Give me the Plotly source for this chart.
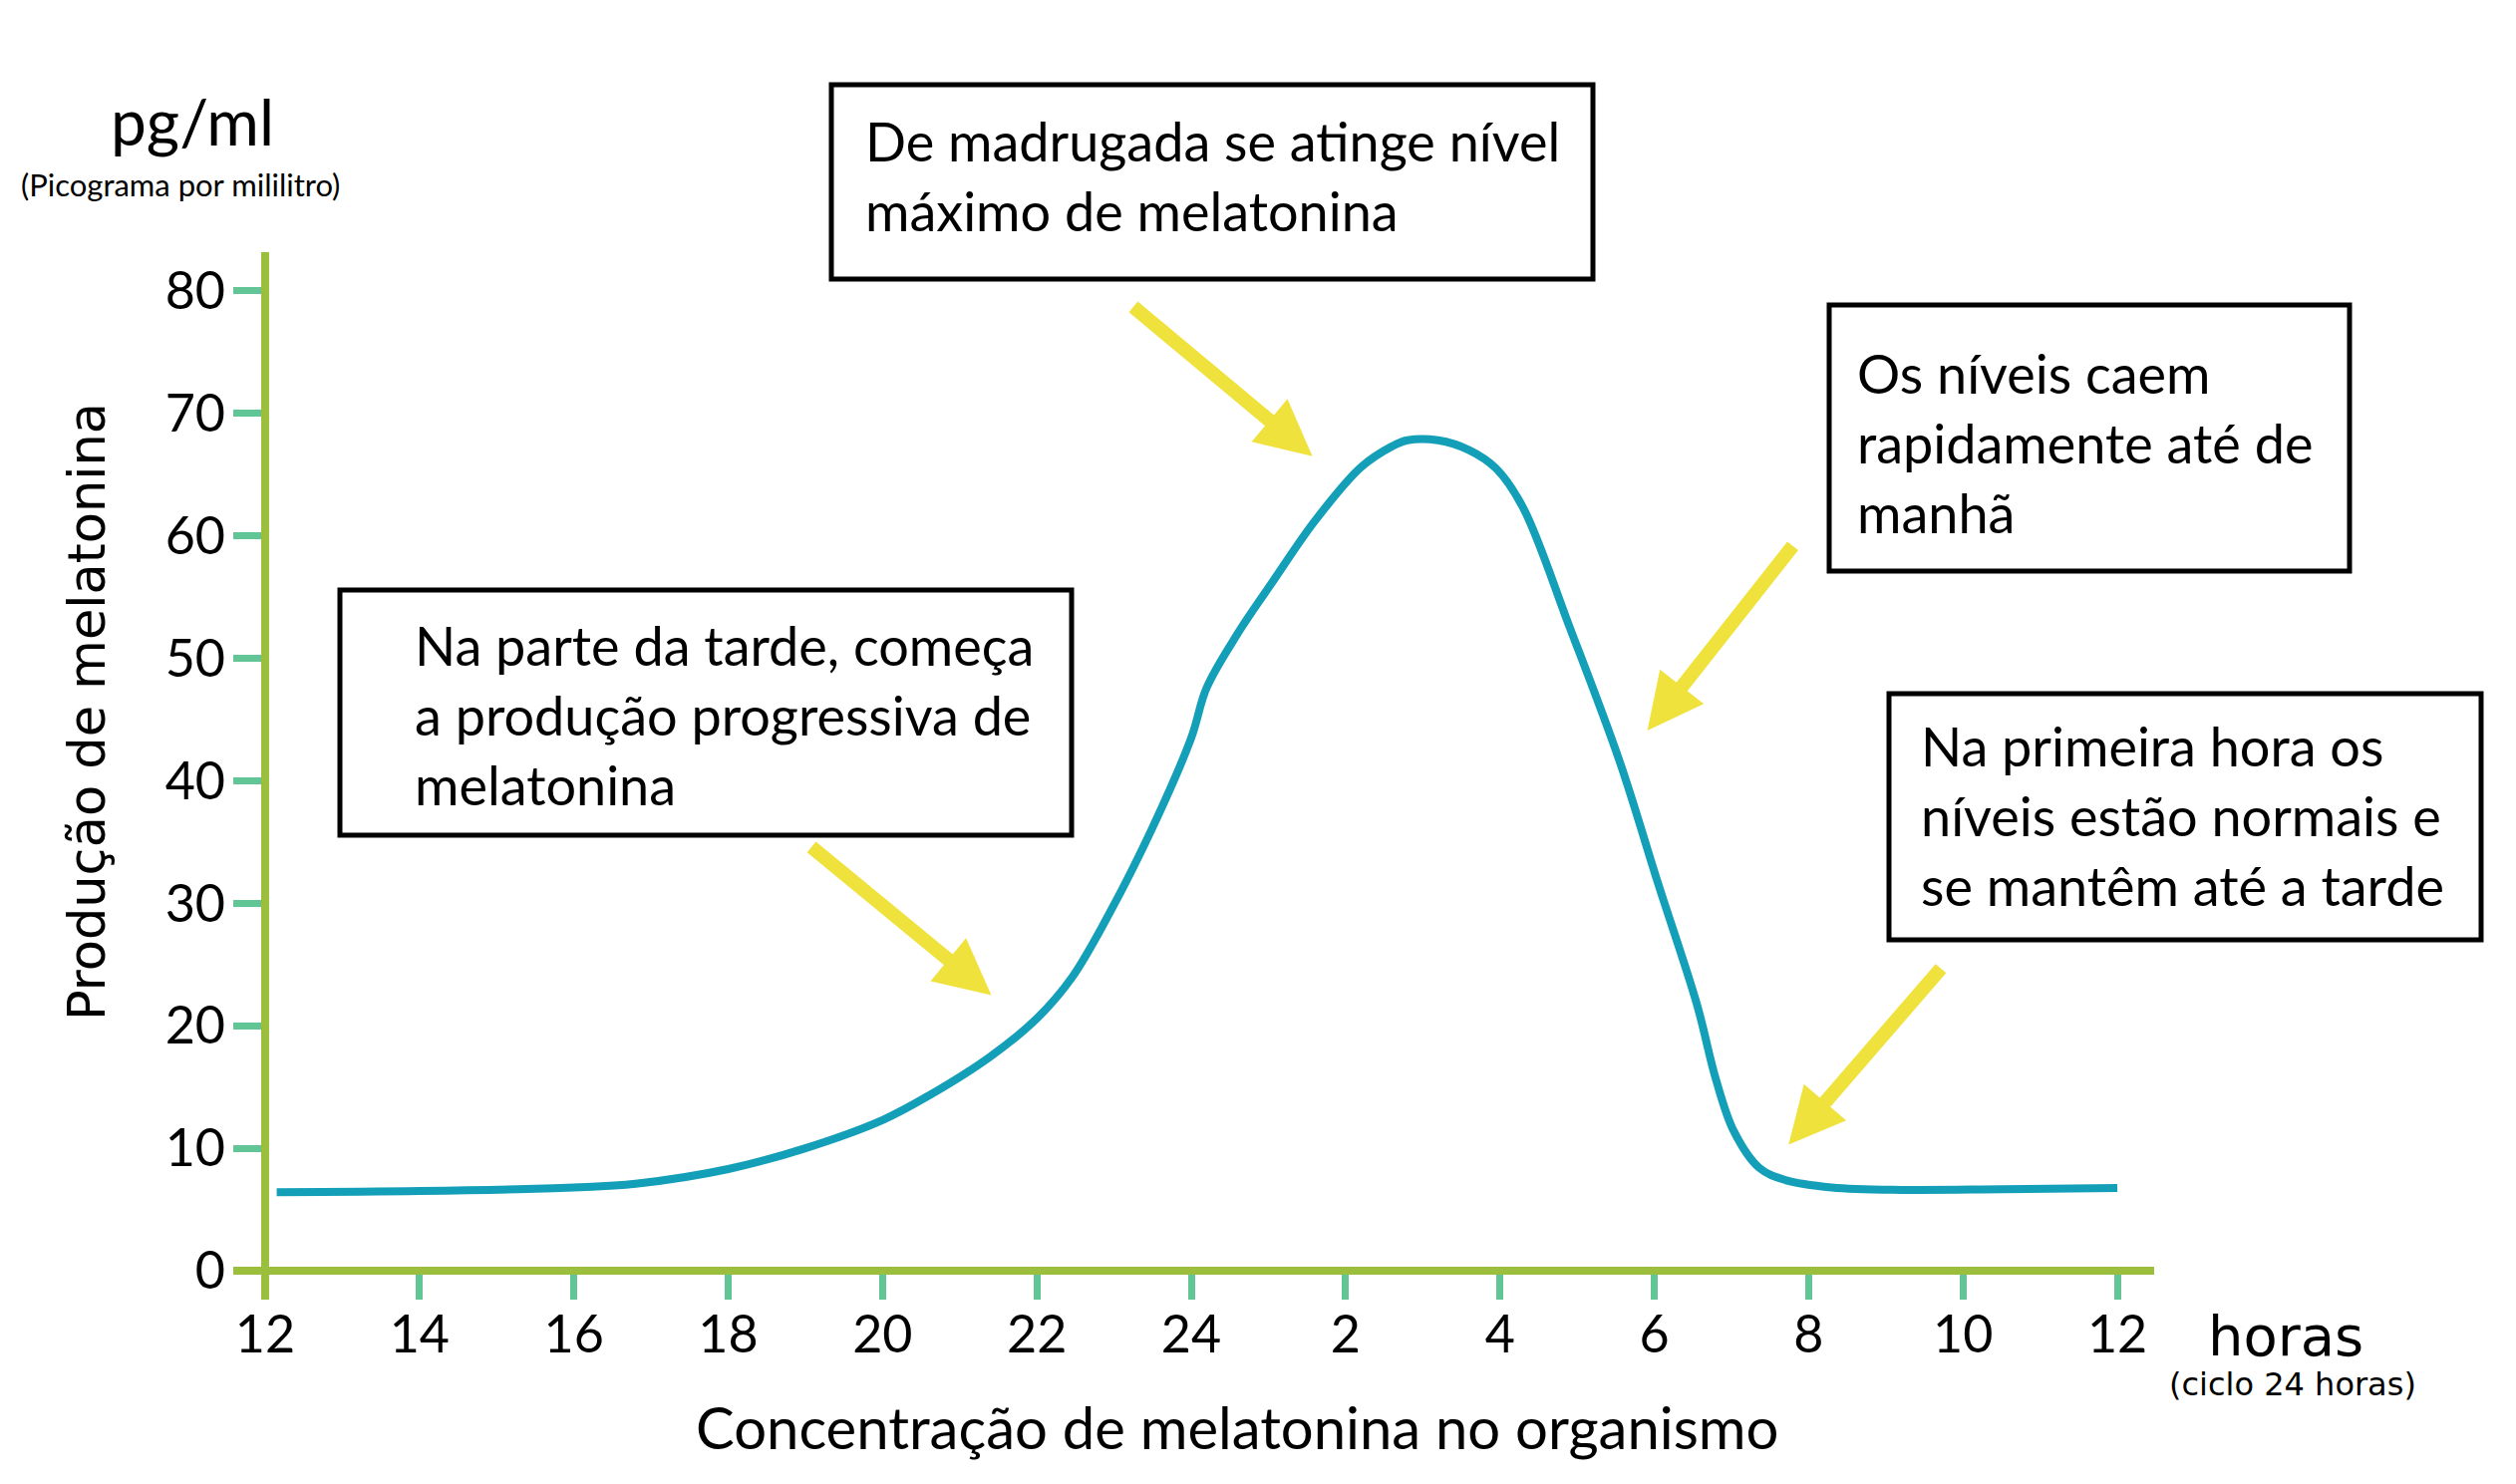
import plotly.graph_objects as go

# hours counted from 12:00 (noon) over a 24 hour cycle
hours = [0.15, 2, 4, 4.8, 6, 7, 8, 8.6, 9.4, 10, 10.45, 10.95, 11.5, 12.0,
         12.2, 12.6, 13.05, 13.6, 14.2, 14.6, 14.8, 15.2, 15.6, 15.95, 16.3,
         16.9, 17.55, 18.05, 18.55, 18.8, 19.03, 19.36, 19.7, 20.3, 21.2,
         22.5, 24.0]
melatonin = [6.4, 6.5, 6.8, 7.1, 8.3, 10.0, 12.3, 14.3, 17.5, 20.6, 23.9, 29.3,
             36.2, 43.5, 47.6, 52.0, 56.2, 61.2, 65.6, 67.3, 67.8, 67.8, 67.0,
             65.5, 62.3, 52.6, 41.6, 31.6, 21.8, 15.6, 11.4, 8.4, 7.4, 6.8,
             6.6, 6.65, 6.75]

x_tickvals = [0, 2, 4, 6, 8, 10, 12, 14, 16, 18, 20, 22, 24]
x_ticktext = ['12', '14', '16', '18', '20', '22', '24', '2', '4', '6', '8', '10', '12']
y_tickvals = [0, 10, 20, 30, 40, 50, 60, 70, 80]

notes = [
    "De madrugada se atinge nível<br>máximo de melatonina",
    "Os níveis caem<br>rapidamente até de<br>manhã",
    "Na parte da tarde, começa<br>a produção progressiva de<br>melatonina",
    "Na primeira hora os<br>níveis estão normais e<br>se mantêm até a tarde",
]
# arrow tips and tails in (hours, pg/ml)
arrow_tips = [(13.57, 66.5), (17.91, 44.1), (9.41, 22.5), (19.74, 10.3)]
arrow_tails = [(11.23, 78.8), (19.81, 59.3), (7.06, 34.7), (21.73, 24.8)]

CURVE = '#149FB8'
AXIS = '#9BBF3C'
TICK = '#62C595'
ARROW = '#F0E23C'
TXT = '#000000'

W, H = 2524, 1489
OFF = 8                             # page body margin
L, R, T, B = 234, 2161, 253, 1304   # plot area in page pixels
X_RANGE = [-0.413, 24.477]
Y_RANGE = [-2.36, 83.16]
FW, FH = W - 2 * OFF, H - 2 * OFF


def px(xp):
    return (xp - L) / (R - L)


def py(yp):
    return (B - yp) / (B - T)


def label(x, y, text, family, size, **kw):
    return dict(xref='paper', yref='paper', x=px(x), y=py(y), text=text,
                xanchor='center', yanchor='middle', showarrow=False,
                font=dict(family=family, size=size, color=TXT), **kw)


fig = go.Figure()
fig.add_trace(go.Scatter(
    x=hours, y=melatonin, mode='lines',
    line=dict(color=CURVE, width=8, shape='spline', smoothing=1.0),
    hoverinfo='skip', showlegend=False,
))

shapes = [
    # axis lines, drawn over the tick marks
    dict(type='line', xref='x', yref='y', x0=0, x1=0, y0=Y_RANGE[0], y1=Y_RANGE[1],
         line=dict(color=AXIS, width=8), layer='above'),
    dict(type='line', xref='x', yref='y', x0=X_RANGE[0], x1=X_RANGE[1], y0=0, y1=0,
         line=dict(color=AXIS, width=8), layer='above'),
    # faint strip at the top edge
    dict(type='rect', xref='paper', yref='paper', x0=px(644), x1=px(1373),
         y0=py(4), y1=py(0), line=dict(width=0), fillcolor='#F8F2C4'),
]

boxes = [(834, 1598, 85, 280), (1835, 2357, 306, 573),
         (341, 1075, 592, 838), (1895, 2489, 696, 943)]
text_left = [866, 1861, 414, 1925]
text_mid = [176, 444, 717, 818]

annotations = []
for (x0, x1, y0, y1), tl, tm, note in zip(boxes, text_left, text_mid, notes):
    shapes.append(dict(type='rect', xref='paper', yref='paper',
                       x0=px(x0), x1=px(x1), y0=py(y1), y1=py(y0),
                       line=dict(color='black', width=5), fillcolor='white'))
    annotations.append(dict(xref='paper', yref='paper', x=px(tl), y=py(tm),
                            xanchor='left', yanchor='middle', align='left',
                            text=note, showarrow=False,
                            font=dict(family='Lato', size=54, color=TXT)))

for (tx, ty), (sx, sy) in zip(arrow_tips, arrow_tails):
    annotations.append(dict(xref='x', yref='y', axref='x', ayref='y',
                            x=tx, y=ty, ax=sx, ay=sy, text='', showarrow=True,
                            arrowhead=2, arrowsize=0.8, arrowwidth=14,
                            arrowcolor=ARROW))

annotations += [
    label(193, 121, 'pg/ml', 'Lato', 64),
    label(181, 185, '(Picograma por mililitro)', 'Lato', 31),
    label(87, 714, 'Produção de melatonina', 'DejaVu Sans', 51, textangle=-90),
    label(1241, 1431, 'Concentração de melatonina no organismo', 'Lato', 58),
    label(2293, 1340, 'horas', 'DejaVu Sans', 56),
    label(2300, 1389, '(ciclo 24 horas)', 'DejaVu Sans', 32),
]

fig.update_layout(
    width=FW, height=FH,
    margin=dict(l=L - OFF, r=FW - (R - OFF), t=T - OFF, b=FH - (B - OFF), pad=0),
    plot_bgcolor='white', paper_bgcolor='white',
    showlegend=False,
    shapes=shapes,
    annotations=annotations,
    font=dict(family='Lato', color=TXT),
)

fig.update_xaxes(
    range=X_RANGE, tickvals=x_tickvals, ticktext=x_ticktext,
    ticks='inside', ticklen=29, tickwidth=7, tickcolor=TICK,
    showline=False, showgrid=False, zeroline=False,
    tickfont=dict(family='Lato', size=52, color=TXT),
)
fig.update_yaxes(
    range=Y_RANGE, tickvals=y_tickvals,
    ticks='inside', ticklen=30, tickwidth=7, tickcolor=TICK,
    showline=False, showgrid=False, zeroline=False, ticklabelstandoff=7,
    tickfont=dict(family='Lato', size=52, color=TXT),
)

fig.write_html("out.html")
